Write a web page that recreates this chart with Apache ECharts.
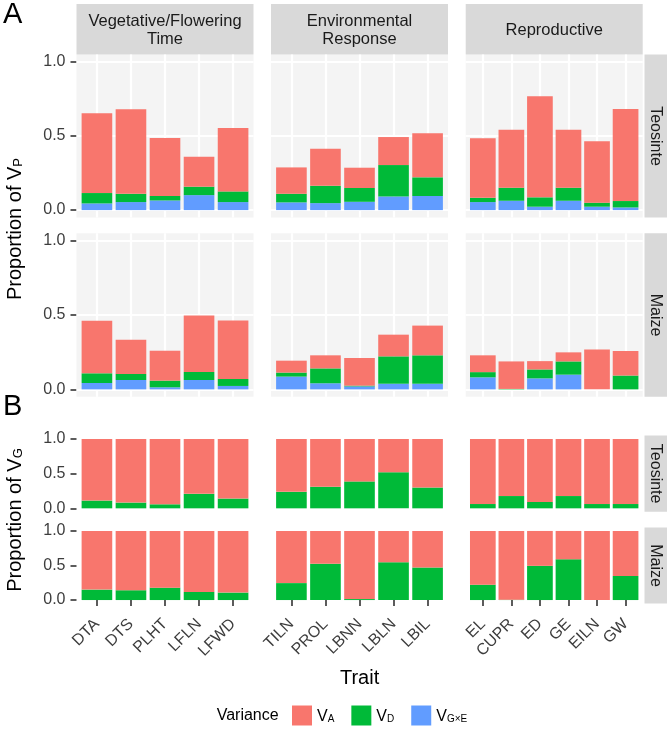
<!DOCTYPE html>
<html><head><meta charset="utf-8">
<script src="https://cdn.jsdelivr.net/npm/echarts@6/dist/echarts.min.js"></script>
<style>html,body{margin:0;padding:0;background:#fff}#c{width:669px;height:729px}</style>
</head><body><div id="c"></div>
<script>
// ---- categories ----
const vegTraits = ['DTA','DTS','PLHT','LFLN','LFWD'];
const envTraits = ['TILN','PROL','LBNN','LBLN','LBIL'];
const repTraits = ['EL','CUPR','ED','GE','EILN','GW'];
const groupNames = ['Vegetative/Flowering\nTime','Environmental\nResponse','Reproductive'];
const rowNames = ['Teosinte','Maize','Teosinte','Maize'];
const yTickValues = [0, 0.5, 1];
// ---- values (trait order: veg, env, rep) ----
// Panel A: proportion of V_P
const aTeoVA   = [0.538,0.570,0.391,0.202,0.428, 0.178,0.250,0.137,0.189,0.297, 0.401,0.392,0.682,0.392,0.414,0.621];
const aTeoVD   = [0.070,0.056,0.030,0.057,0.072, 0.058,0.117,0.093,0.212,0.126, 0.029,0.088,0.063,0.088,0.027,0.043];
const aTeoVGxE = [0.045,0.054,0.065,0.101,0.054, 0.052,0.047,0.056,0.092,0.095, 0.054,0.063,0.023,0.063,0.023,0.018];
const aMaiVA   = [0.353,0.230,0.201,0.380,0.393, 0.080,0.088,0.186,0.146,0.200, 0.113,0.185,0.056,0.061,0.269,0.165];
const aMaiVD   = [0.065,0.041,0.045,0.054,0.047, 0.027,0.100,0.005,0.184,0.191, 0.035,0.003,0.060,0.089,0.000,0.093];
const aMaiVGxE = [0.043,0.063,0.014,0.063,0.023, 0.086,0.041,0.020,0.038,0.038, 0.081,0.000,0.074,0.099,0.000,0.000];
// Panel B: proportion of V_G
const bTeoVD = [0.112,0.083,0.058,0.209,0.141, 0.238,0.311,0.388,0.519,0.300, 0.062,0.177,0.091,0.177,0.062,0.062];
const bTeoVA = [0.888,0.917,0.942,0.791,0.859, 0.762,0.689,0.612,0.481,0.700, 0.938,0.823,0.909,0.823,0.938,0.938];
const bMaiVD = [0.151,0.142,0.179,0.118,0.108, 0.245,0.524,0.014,0.547,0.472, 0.222,0.005,0.495,0.590,0.000,0.348];
const bMaiVA = [0.849,0.858,0.821,0.882,0.892, 0.755,0.476,0.986,0.453,0.528, 0.778,0.995,0.505,0.410,1.000,0.652];

const FONT = '"Liberation Sans", Arial, Helvetica, sans-serif';
const groups = [vegTraits, envTraits, repTraits];
const offsets = [0, vegTraits.length, vegTraits.length + envTraits.length];
const colLeft = [76.5, 271, 465.7];
const colW = 177;
const colors = {V_A:'#F8766D', V_D:'#00BA38', V_GxE:'#619CFF'};
const rows = [
  {top:54.5,  h:163,   bg:true,  series:[['V_GxE',aTeoVGxE],['V_D',aTeoVD],['V_A',aTeoVA]]},
  {top:233.3, h:163.5, bg:true,  series:[['V_GxE',aMaiVGxE],['V_D',aMaiVD],['V_A',aMaiVA]]},
  {top:435.5, h:76.3,  bg:false, series:[['V_D',bTeoVD],['V_A',bTeoVA]]},
  {top:527.5, h:76,    bg:false, series:[['V_D',bMaiVD],['V_A',bMaiVA]]}
];
const tickStyle = {color:'#333333', width:1.6};
const tickLabelColor = '#3D3D3D';

const grid = [], xAxis = [], yAxis = [], series = [];
rows.forEach((row, r) => {
  groups.forEach((cats, c) => {
    const n = cats.length;
    const unit = colW / (n + 0.2);          // ggplot discrete expansion of 0.6 units
    const padY = 0.05 * row.h / 1.1;        // 5% continuous expansion
    // --- outer panel grid: background + white grid lines ---
    const go = grid.length;
    grid.push({left: colLeft[c], top: row.top, width: colW, height: row.h,
      show: row.bg, backgroundColor: '#F4F4F4', borderWidth: 0});
    xAxis.push({type:'value', gridIndex: go, min: -0.6, max: n - 0.4, show: false});
    yAxis.push({type:'value', gridIndex: go, min: -0.05, max: 1.05, show: false});
    if (row.bg) {
      series.push({type:'scatter', xAxisIndex: go, yAxisIndex: go, data: [], silent: true, z: 1,
        markLine:{silent:true, z:1, symbol:'none', animation:false, label:{show:false},
          lineStyle:{color:'#FFFFFF', width:2.2, type:'solid'},
          emphasis:{disabled:true},
          data: cats.map((_, i) => ({xAxis: i})).concat(yTickValues.map(v => ({yAxis: v})))}});
    }
    // --- inner data grid: bars ---
    const gi = grid.length;
    grid.push({left: colLeft[c] + 0.1 * unit, top: row.top + padY, width: n * unit, height: row.h - 2 * padY,
      show: false});
    xAxis.push({type:'category', gridIndex: gi, data: cats, boundaryGap: true, offset: padY,
      axisLine:{show:false}, splitLine:{show:false},
      axisTick:{show: r === 3, alignWithLabel: true, length: 6, lineStyle: tickStyle},
      axisLabel:{show: r === 3, interval: 0, rotate: 45, fontSize: 16, color: tickLabelColor, margin: 18, fontFamily: FONT}});
    yAxis.push({type:'value', gridIndex: gi, min: 0, max: 1, interval: 0.5, offset: 0.1 * unit,
      splitLine:{show:false}, axisLine:{show:false},
      axisTick:{show: c === 0, length: 6, lineStyle: tickStyle},
      axisLabel:{show: c === 0, formatter: v => v.toFixed(1), fontSize: 16, color: tickLabelColor, margin: 11, fontFamily: FONT}});
    row.series.forEach(([name, arr]) => {
      series.push({type:'bar', name, xAxisIndex: gi, yAxisIndex: gi, stack: 's' + gi,
        barCategoryGap: '10%', z: 2, animation: false,
        itemStyle:{color: colors[name]},
        emphasis:{disabled:true},
        data: cats.map((_, i) => arr[offsets[c] + i])});
    });
  });
});

const graphic = [];
// top strips
groups.forEach((cats, c) => {
  graphic.push({type:'rect', shape:{x: colLeft[c], y: 4, width: colW, height: 50.5}, style:{fill:'#D9D9D9'}, silent:true});
  graphic.push({type:'text', x: colLeft[c] + colW / 2, y: 30, silent:true,
    style:{text: groupNames[c], align:'center', verticalAlign:'middle', font: '16.5px ' + FONT, lineHeight: 18, fill:'#1A1A1A'}});
});
// right strips
rows.forEach((row, r) => {
  graphic.push({type:'rect', shape:{x: 644.5, y: row.top, width: 22.5, height: row.h}, style:{fill:'#D9D9D9'}, silent:true});
  graphic.push({type:'text', x: 655.75, y: row.top + row.h / 2, rotation: -Math.PI / 2, silent:true,
    style:{text: rowNames[r], align:'center', verticalAlign:'middle', font: '16px ' + FONT, fill:'#1A1A1A'}});
});
// panel letters
graphic.push({type:'text', x: 3, y: 15, silent:true, style:{text:'A', align:'left', verticalAlign:'middle', font:'29px ' + FONT, fill:'#000'}});
graphic.push({type:'text', x: 3, y: 407, silent:true, style:{text:'B', align:'left', verticalAlign:'middle', font:'29px ' + FONT, fill:'#000'}});
// y titles
const titleRich = {t:{fontSize:20, fontFamily:FONT, fill:'#000', verticalAlign:'bottom', lineHeight:22},
                   s:{fontSize:13, fontFamily:FONT, fill:'#000', verticalAlign:'bottom', lineHeight:13}};
graphic.push({type:'text', x: 14, y: 229, rotation: Math.PI / 2, silent:true,
  style:{text:'{t|Proportion of V}{s|P}', rich: titleRich, align:'center', verticalAlign:'middle'}});
graphic.push({type:'text', x: 14, y: 520, rotation: Math.PI / 2, silent:true,
  style:{text:'{t|Proportion of V}{s|G}', rich: titleRich, align:'center', verticalAlign:'middle'}});
// x title
graphic.push({type:'text', x: 359.6, y: 678, silent:true,
  style:{text:'Trait', align:'center', verticalAlign:'middle', font:'20px ' + FONT, fill:'#000'}});
// legend title
graphic.push({type:'text', x: 216.7, y: 715.4, silent:true,
  style:{text:'Variance', align:'left', verticalAlign:'middle', font:'16px ' + FONT, fill:'#000'}});

const legendLabels = {V_A:'{v|V}{s|A}', V_D:'{v|V}{s|D}', V_GxE:'{v|V}{s|G×E}'};
const option = {
  animation: false,
  backgroundColor: '#FFFFFF',
  grid, xAxis, yAxis, series, graphic,
  legend: {data:['V_A','V_D','V_GxE'], left: 292, top: 705.5, padding: 0,
    itemWidth: 20, itemHeight: 20, itemGap: 17, itemTextGap: 17, icon: 'rect', selectedMode: false,
    formatter: name => legendLabels[name],
    textStyle: {color:'#000', fontFamily: FONT, fontSize: 16,
      rich: {v:{fontSize:16, fontFamily:FONT, verticalAlign:'bottom', lineHeight:18},
             s:{fontSize:10, fontFamily:FONT, verticalAlign:'bottom', lineHeight:10}}}}
};
const chart = echarts.init(document.getElementById('c'), null, {renderer:'canvas'});
chart.setOption(option);
</script></body></html>
